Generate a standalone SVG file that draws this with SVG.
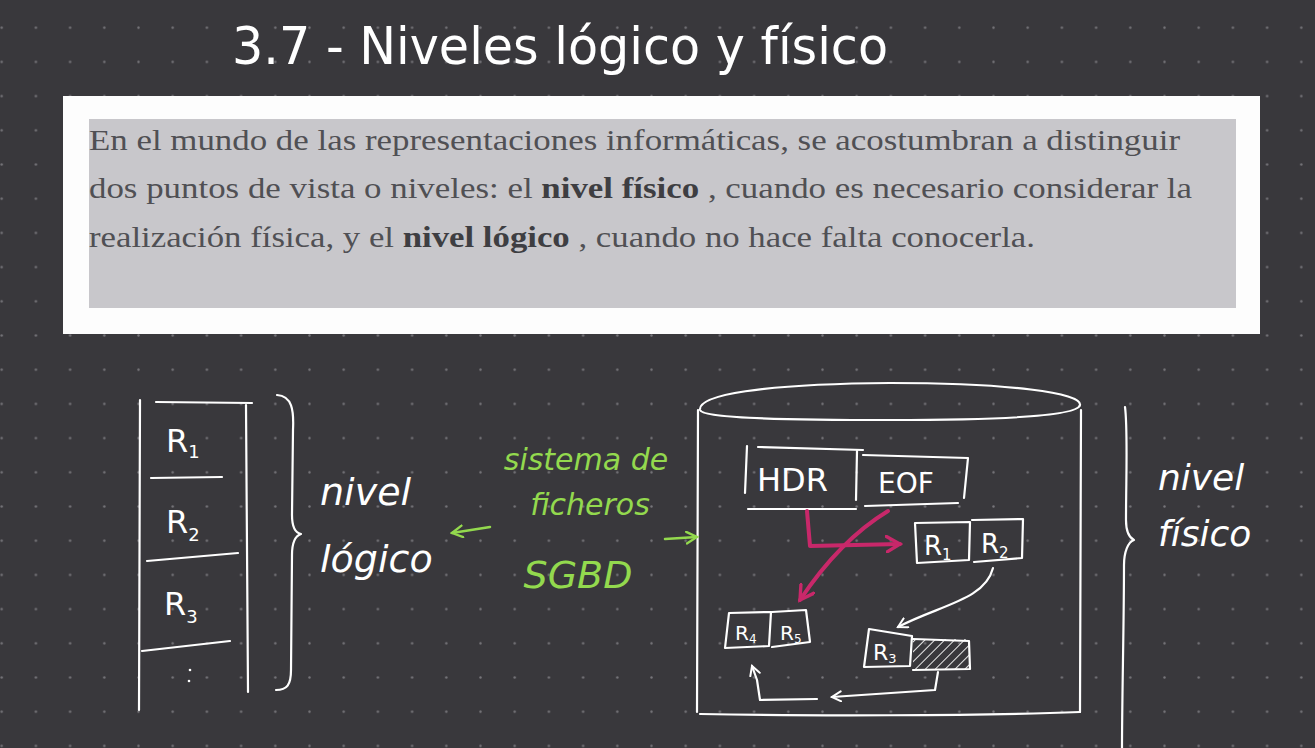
<svg xmlns="http://www.w3.org/2000/svg" width="1315" height="748" viewBox="0 0 1315 748">
<defs>
<pattern id="dots" x="-15.4" y="10.6" width="34.2" height="34.2" patternUnits="userSpaceOnUse">
<circle cx="17.1" cy="17.1" r="1.2" fill="#76757a"/>
</pattern>
<marker id="ah-w" viewBox="0 0 12 12" refX="10" refY="6" markerWidth="12" markerHeight="12" markerUnits="userSpaceOnUse" orient="auto">
<path d="M1,1 L10,6 L1,11" fill="none" stroke="#ffffff" stroke-width="2" stroke-linecap="round"/>
</marker>
<marker id="ah-p" viewBox="0 0 16 16" refX="13" refY="8" markerWidth="18" markerHeight="18" markerUnits="userSpaceOnUse" orient="auto">
<path d="M1,1 L13,8 L1,15" fill="none" stroke="#c8286a" stroke-width="3" stroke-linecap="round"/>
</marker>
<marker id="ah-g" viewBox="0 0 12 12" refX="10" refY="6" markerWidth="14" markerHeight="14" markerUnits="userSpaceOnUse" orient="auto">
<path d="M1,1 L10,6 L1,11" fill="none" stroke="#93d94e" stroke-width="2" stroke-linecap="round"/>
</marker>
<pattern id="hatch" width="7" height="7" patternUnits="userSpaceOnUse" patternTransform="rotate(45)">
<line x1="0" y1="0" x2="0" y2="7" stroke="#ffffff" stroke-width="2"/>
</pattern>
</defs>
<style>
.ink{fill:none;stroke:#ffffff;stroke-width:2.2;stroke-linecap:round;stroke-linejoin:round}
.pink{fill:none;stroke:#c8286a;stroke-width:4;stroke-linecap:round;stroke-linejoin:round}
.grn{fill:none;stroke:#93d94e;stroke-width:2.5;stroke-linecap:round}
.hw{font-family:"DejaVu Sans","Liberation Sans",sans-serif;fill:#ffffff}
.hwg{font-family:"DejaVu Sans","Liberation Sans",sans-serif;fill:#93d94e;font-style:italic}
.para{font-family:"Liberation Serif",serif;font-size:30px;fill:#505054}
.para tspan.b{font-weight:bold;fill:#3e3e42}
</style>
<rect width="1315" height="748" fill="#39383c"/>
<rect width="1315" height="748" fill="url(#dots)"/>

<g id="title">
<text x="232" y="64" class="hw" font-size="52" textLength="656" lengthAdjust="spacingAndGlyphs">3.7 - Niveles lógico y físico</text>
</g>

<g id="definition">
<rect x="63" y="96" width="1197" height="238" fill="#fdfdfd"/>
<rect x="89" y="119" width="1147" height="189" fill="#c8c7cb"/>
<text class="para" x="89" y="150" textLength="1091" lengthAdjust="spacingAndGlyphs">En el mundo de las representaciones informáticas, se acostumbran a distinguir</text>
<text class="para" x="89" y="198" textLength="1103" lengthAdjust="spacingAndGlyphs">dos puntos de vista o niveles: el <tspan class="b">nivel físico</tspan> , cuando es necesario considerar la</text>
<text class="para" x="89" y="247" textLength="946" lengthAdjust="spacingAndGlyphs">realización física, y el <tspan class="b">nivel lógico</tspan> , cuando no hace falta conocerla.</text>
</g>

<g id="logical-table">
<path class="ink" d="M140,400 L139,710"/>
<path class="ink" d="M246,405 L248,692"/>
<path class="ink" d="M156,402 L252,403"/>
<path class="ink" d="M151,478 L222,477"/>
<path class="ink" d="M147,561 L238,553"/>
<path class="ink" d="M142,651 L230,641"/>
<text class="hw" x="166" y="452" font-size="32">R<tspan font-size="18" dy="6">1</tspan></text>
<text class="hw" x="166" y="533" font-size="32">R<tspan font-size="18" dy="8">2</tspan></text>
<text class="hw" x="164" y="615" font-size="32">R<tspan font-size="18" dy="8">3</tspan></text>
<circle cx="190" cy="670" r="1.3" fill="#ffffff"/>
<circle cx="189" cy="681" r="1.3" fill="#ffffff"/>
</g>

<g id="brace-logico">
<path class="ink" d="M277,395 C292,396 294,410 293,430 L292,515 C292,528 296,533 301,534 C295,536 292,542 292,555 L291,670 C291,685 287,690 276,690"/>
<text class="hw" x="320" y="505" font-size="38" font-style="italic">nivel</text>
<text class="hw" x="320" y="572" font-size="38" font-style="italic">lógico</text>
</g>

<g id="sgbd">
<text class="hwg" x="586" y="470" font-size="30" text-anchor="middle">sistema de</text>
<text class="hwg" x="590" y="515" font-size="30" text-anchor="middle">ficheros</text>
<text class="hwg" x="578" y="588" font-size="38" text-anchor="middle" font-style="normal">SGBD</text>
</g>

<g id="physical-cylinder">
<path class="ink" d="M700,410 C698,395 760,384 890,383 C1010,383 1082,393 1080,405 C1078,416 1000,420 890,420 C780,420 702,418 700,410 Z"/>
<path class="ink" d="M698,410 L697,712"/>
<path class="ink" d="M1081,410 L1080,712"/>
<path class="ink" d="M700,714 C800,716 980,716 1080,712"/>
</g>

<g id="hdr-eof">
<path class="ink" d="M747,446 L745,493"/>
<path class="ink" d="M758,447 L863,450"/>
<path class="ink" d="M857,451 L856,500"/>
<path class="ink" d="M748,509 L856,509"/>
<path class="ink" d="M863,455 L968,458 L964,498"/>
<path class="ink" d="M865,506 L958,503"/>
<text class="hw" x="757" y="491" font-size="32">HDR</text>
<text class="hw" x="878" y="493" font-size="28">EOF</text>
</g>

<g id="r1-r2">
<path class="ink" d="M915,523 L970,522 L969,560 L917,563 Z"/>
<path class="ink" d="M972,520 L1023,519 L1022,558 L974,562"/>
<text class="hw" x="924" y="555" font-size="26">R<tspan font-size="15" dy="5">1</tspan></text>
<text class="hw" x="981" y="553" font-size="26">R<tspan font-size="15" dy="5">2</tspan></text>
</g>

<g id="r4-r5">
<path class="ink" d="M729,613 L771,612 L769,646 L725,648 Z"/>
<path class="ink" d="M772,612 L806,610 L810,642 L772,647"/>
<text class="hw" x="735" y="640" font-size="20">R<tspan font-size="12" dy="3">4</tspan></text>
<text class="hw" x="780" y="640" font-size="20">R<tspan font-size="12" dy="3">5</tspan></text>
</g>

<g id="r3-free">
<path class="ink" d="M869,629 L912,636 L910,666 L864,667 Z"/>
<rect x="913" y="639" width="56" height="30" fill="url(#hatch)" opacity="0.9"/>
<path class="ink" d="M913,639 L969,641 L970,669 L913,670"/>
<text class="hw" x="873" y="660" font-size="22">R<tspan font-size="13" dy="3">3</tspan></text>
</g>

<g id="brace-fisico">
<path class="ink" d="M1125,407 C1128,430 1126,480 1126,520 C1126,532 1130,538 1134,540 C1128,542 1124,552 1124,565 C1124,620 1122,700 1122,748"/>
<text class="hw" x="1158" y="490" font-size="36" font-style="italic">nivel</text>
<text class="hw" x="1158" y="546" font-size="36" font-style="italic">físico</text>
</g>

<g id="connectors">
<path class="grn" d="M490,527 L452,533" marker-end="url(#ah-g)"/>
<path class="grn" d="M665,539 L697,537" marker-end="url(#ah-g)"/>
<path class="pink" d="M807,511 L810,546 L900,544" marker-end="url(#ah-p)"/>
<path class="pink" d="M888,511 C860,528 830,555 800,600" marker-end="url(#ah-p)"/>
<path class="ink" d="M993,568 C985,600 940,605 898,627" marker-end="url(#ah-w)"/>
<path class="ink" d="M938,672 L935,690 L832,697" marker-end="url(#ah-w)"/>
<path class="ink" d="M817,699 L760,700 L757,680 L752,666" marker-end="url(#ah-w)"/>
</g>
</svg>
